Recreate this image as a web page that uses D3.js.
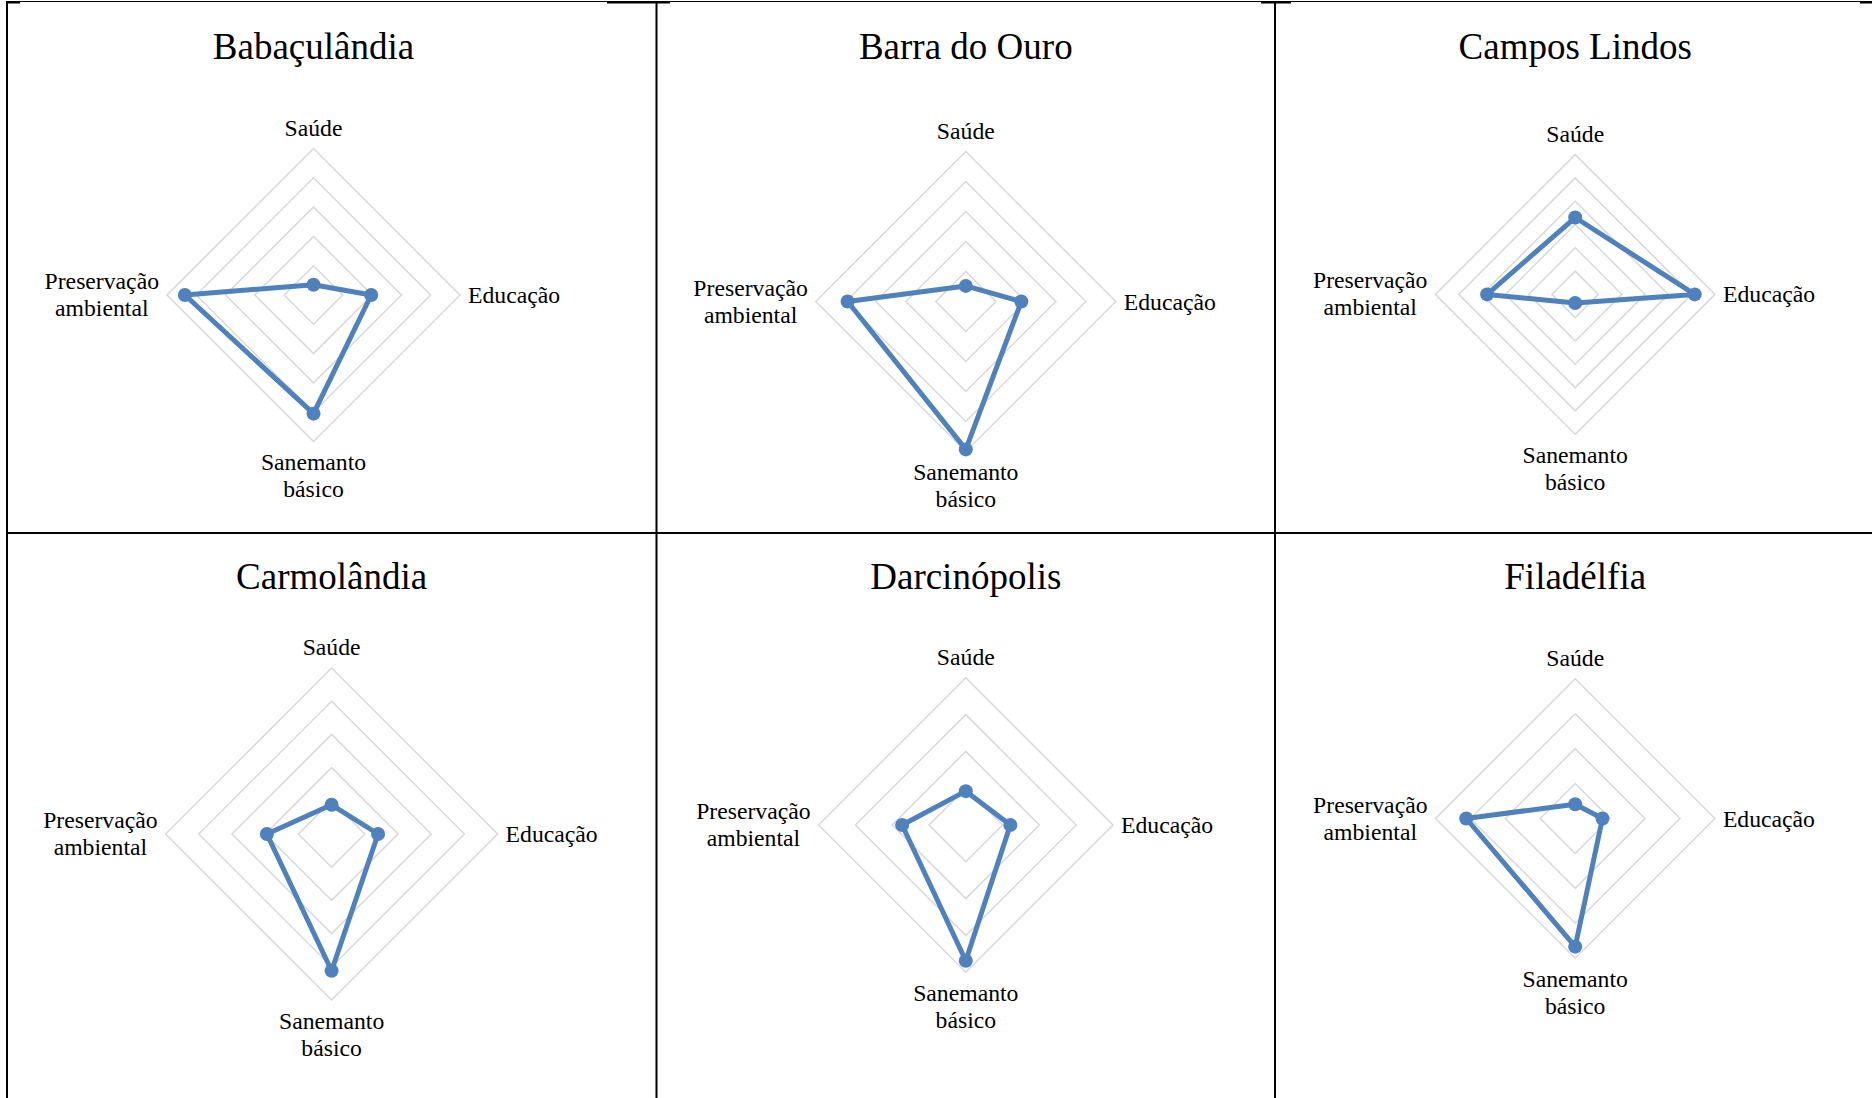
<!DOCTYPE html>
<html>
<head>
<meta charset="utf-8">
<script src="https://cdn.jsdelivr.net/npm/d3@7"></script>
<style>
  html, body { margin: 0; padding: 0; background: #ffffff; }
  svg { display: block; }
  text { font-family: "Liberation Serif", "Times New Roman", serif; fill: #000; }
</style>
</head>
<body>
<svg id="chart" width="1872" height="1098"></svg>
<script>
// ---------- DATA ----------
const municipios = ["Babaçulândia", "Barra do Ouro", "Campos Lindos", "Carmolândia", "Darcinópolis", "Filadélfia"];
const eixos = ["Saúde", "Educação", "Sanemanto básico", "Preservação ambiental"];
const saude       = [0.035, 0.052, 0.330, 0.088, 0.092, 0.041];
const educacao    = [0.197, 0.185, 0.513, 0.140, 0.121, 0.078];
const saneamento  = [0.405, 0.493, 0.037, 0.412, 0.369, 0.367];
const preservacao = [0.439, 0.394, 0.378, 0.195, 0.173, 0.312];
const eixoMax     = [0.5, 0.5, 0.6, 0.5, 0.4, 0.4];
const eixoPasso   = 0.1;

// ---------- LAYOUT ----------
const layout = [
  { cx: 313.5,  cy: 295.0, r: 146.5, ty: 58.5 },
  { cx: 965.8,  cy: 301.5, r: 150.0, ty: 58.5 },
  { cx: 1575.2, cy: 294.4, r: 139.8, ty: 58.5 },
  { cx: 331.6,  cy: 834.0, r: 166.0, ty: 589 },
  { cx: 965.8,  cy: 825.0, r: 147.2, ty: 589 },
  { cx: 1575.2, cy: 818.5, r: 139.7, ty: 589 }
];
const color = "#4f81bd";
const gridColor = "#d9d9d9";
const labelSize = 23.7, titleSize = 37, lineH = 27;

const svg = d3.select("#chart");

// borders
const borders = svg.append("g").attr("stroke", "#000").attr("fill", "none");
borders.append("line").attr("x1", 7).attr("x2", 7).attr("y1", 1).attr("y2", 1098).attr("stroke-width", 2);
borders.append("line").attr("x1", 656.5).attr("x2", 656.5).attr("y1", 1).attr("y2", 1098).attr("stroke-width", 2);
borders.append("line").attr("x1", 1275).attr("x2", 1275).attr("y1", 1).attr("y2", 1098).attr("stroke-width", 2);
borders.append("line").attr("x1", 6).attr("x2", 1872).attr("y1", 533).attr("y2", 533).attr("stroke-width", 2);
borders.append("line").attr("x1", 6).attr("x2", 1872).attr("y1", 1.5).attr("y2", 1.5).attr("stroke-width", 1);
[[6, 20], [607, 670], [1261, 1291], [1860, 1872]].forEach(([a, b]) => {
  borders.append("line").attr("x1", a).attr("x2", b).attr("y1", 2.5).attr("y2", 2.5).attr("stroke-width", 2);
});

const angles = eixos.map((_, i) => i * Math.PI / 2);

municipios.forEach((nome, p) => {
  const L = layout[p];
  const g = svg.append("g").attr("transform", `translate(${L.cx},${L.cy})`);
  const r = d3.scaleLinear().domain([0, eixoMax[p]]).range([0, L.r]);
  const nRings = Math.round(eixoMax[p] / eixoPasso);
  const rings = d3.range(1, nRings + 1).map(k => k * eixoPasso);

  // grid rings (diamonds)
  const ringLine = d3.lineRadial().curve(d3.curveLinearClosed);
  g.append("g").selectAll("path").data(rings).join("path")
    .attr("d", v => ringLine(angles.map(a => [a, r(v)])))
    .attr("fill", "none").attr("stroke", gridColor).attr("stroke-width", 1.5);

  // series
  const vals = [saude[p], educacao[p], saneamento[p], preservacao[p]];
  const pts = vals.map((v, i) => [angles[i], r(v)]);
  g.append("path")
    .attr("d", d3.lineRadial().curve(d3.curveLinearClosed)(pts))
    .attr("fill", "none").attr("stroke", color).attr("stroke-width", 5)
    .attr("stroke-linejoin", "round");
  g.append("g").selectAll("circle").data(pts).join("circle")
    .attr("cx", d => d[1] * Math.sin(d[0]))
    .attr("cy", d => -d[1] * Math.cos(d[0]))
    .attr("r", 7).attr("fill", color);

  // title
  svg.append("text").attr("x", L.cx).attr("y", L.ty)
    .attr("text-anchor", "middle").attr("font-size", titleSize).text(nome);

  // axis labels
  const R = L.r;
  // top
  g.append("text").attr("x", 0).attr("y", -R - 13).attr("text-anchor", "middle")
    .attr("font-size", labelSize).text(eixos[0]);
  // right
  g.append("text").attr("x", R + 8).attr("y", 8).attr("text-anchor", "start")
    .attr("font-size", labelSize).text(eixos[1]);
  // bottom (two lines)
  const b = eixos[2].split(" ");
  const tb = g.append("text").attr("text-anchor", "middle").attr("font-size", labelSize);
  b.forEach((w, i) => tb.append("tspan").attr("x", 0).attr("y", R + 28.5 + i * lineH).text(w));
  // left (two lines, centred block, right edge near the axis)
  const l = eixos[3].split(" ");
  const tl = g.append("text").attr("text-anchor", "middle").attr("font-size", labelSize);
  const spans = l.map((w, i) => tl.append("tspan").attr("y", -6 + i * lineH).text(w));
  const wMax = d3.max(spans, s => s.node().getComputedTextLength());
  spans.forEach(s => s.attr("x", -R - 8 - wMax / 2));
});
</script>
</body>
</html>
